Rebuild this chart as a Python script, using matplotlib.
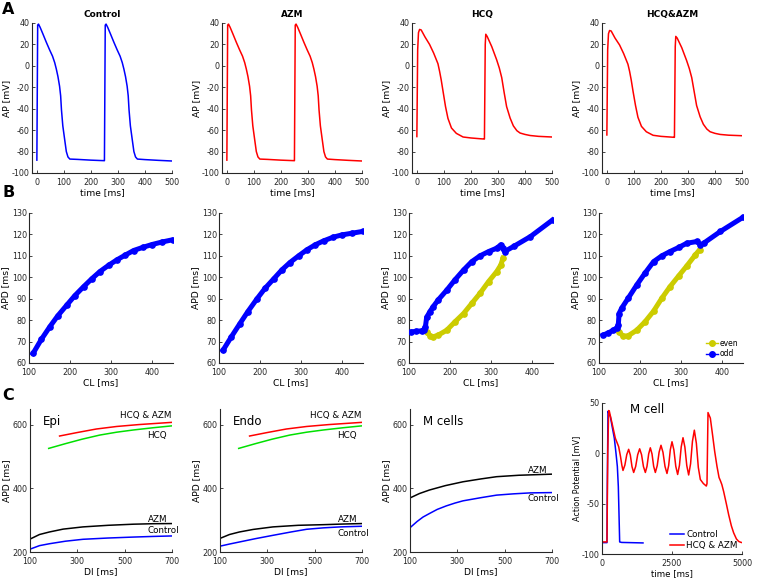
import matplotlib
matplotlib.use("Agg")
import matplotlib.pyplot as plt
from matplotlib.lines import Line2D

plt.rcParams["axes.unicode_minus"] = False  # MATLAB-style hyphen minus

# ---------- A: action potentials (time ms, voltage mV) ----------
ctrl_t = [0, 3, 6, 12, 22, 35, 47, 58, 66, 72, 78, 84, 88, 91, 96, 103, 109, 115, 122, 150, 200, 249.5,
          250, 253, 256, 262, 272, 285, 297, 308, 316, 322, 328, 334, 338, 341, 346, 353, 359, 365, 372, 400, 450, 500]
ctrl_v = [-88, 38, 39, 36, 30, 22, 15, 9, 3, -3, -10, -19, -28, -41, -56, -69, -80, -85, -87, -87.3, -88, -88.5,
          -88.5, 38, 39, 36, 30, 22, 15, 9, 3, -3, -10, -19, -28, -41, -56, -69, -80, -85, -87, -87.5, -88.2, -88.8]
azm_t = ctrl_t
azm_v = [-88, 38, 39, 36, 30, 22, 15, 9, 3, -3, -10, -19, -28, -41, -56, -69, -80, -85, -87, -87.3, -88, -88.5,
         -88.5, 38, 39, 36, 30, 22, 15, 9, 3, -3, -10, -19, -28, -41, -56, -69, -80, -85, -87, -87.5, -88.2, -88.8]
hcq_t = [0, 3, 6, 10, 16, 30, 47, 62, 78, 84, 90, 97, 106, 115, 128, 146, 171, 200, 233, 249.5,
         250, 253, 255, 260, 277, 295, 305, 314, 323, 332, 345, 357, 370, 382, 400, 419, 450, 500]
hcq_v = [-66, 15, 31, 34, 33.5, 27, 20, 12, 2, -5, -13, -24, -38, -49, -58, -63, -66.4, -67.3, -68, -68.3,
         -68.3, 20, 29.5, 27.5, 18, 5.8, -2, -11, -25, -38, -48.7, -56, -60.5, -62.7, -64, -65, -65.8, -66.4]
hqaz_t = hcq_t
hqaz_v = [-64.5, 15, 30, 33, 32.5, 26, 19.5, 11.5, 1.5, -5, -13, -24, -37, -48, -56.5, -61.5, -64.8, -65.8, -66.4, -66.7,
          -66.7, 18, 27.5, 26, 17, 5, -2.5, -11, -24, -37, -47.5, -54.5, -59, -61.5, -63, -64, -64.7, -65.2]

# ---------- B: restitution (CL ms, APD ms) ----------
ctrl_cl = [110, 130, 151, 170, 192, 212, 233, 253, 273, 294, 314, 335, 355, 378, 400, 425, 450]
ctrl_apd = [64.5, 71, 77, 82, 87, 91.5, 95.6, 99.3, 102.7, 105.6, 108.1, 110.4, 112.5, 114, 115.3, 116.5, 117.5]
azm_cl = ctrl_cl
azm_apd = [66, 72.2, 78.4, 83.9, 89.8, 94.8, 99.2, 103.4, 106.9, 110, 112.8, 115.2, 117, 118.7, 119.8, 120.6, 121.4]

hcq_odd_cl = [106, 118, 131, 136, 140, 143, 151, 159, 171, 192, 212, 233, 253, 273, 294, 314, 324, 328, 333,
              355, 396, 451]
hcq_odd_apd = [74.5, 74.8, 75, 75.6, 76.9, 81.3, 84, 86.3, 89.4, 94, 98.8, 103.4, 107.3, 110, 112, 113.6, 115.2,
               113.6, 112, 114.4, 119, 126.9]
hcq_even_cl = [143, 151, 159, 171, 192, 212, 233, 253, 273, 294, 314, 324, 329]
hcq_even_apd = [74.5, 72.8, 72.2, 73, 75.3, 79.2, 83.1, 87.8, 92.5, 98, 102.7, 105.8, 108.9]

hqaz_odd_cl = [110, 122, 135, 143, 147, 149, 155, 171, 192, 212, 233, 253, 273, 294, 314, 339, 347, 355, 396, 451]
hqaz_odd_apd = [73, 74, 75.3, 76.4, 77.7, 83.1, 85.5, 90.2, 96.4, 101.9, 107.3, 110, 112, 113.9, 115.9, 116.7,
                115.2, 115.9, 121.4, 128]
hqaz_even_cl = [149, 159, 171, 192, 212, 233, 253, 273, 294, 314, 335, 345]
hqaz_even_apd = [74.5, 72.5, 72.7, 75.3, 79.2, 84.2, 90.2, 95.6, 100.6, 105.3, 110.5, 112.8]

# ---------- C: APD restitution vs DI ----------
red_di = [225, 300, 380, 466, 560, 640, 700]
red_apd = [565, 576, 587, 595, 601, 605, 608]
green_di = [179, 250, 320, 395, 466, 537, 620, 700]
green_apd = [526, 541, 555, 568, 577, 584, 591, 597]

epi_azm_di = [104, 140, 182, 240, 324, 430, 537, 620, 700]
epi_azm_apd = [242, 255, 263, 272, 279, 284, 287.5, 289, 289.5]
epi_ctrl_di = [104, 140, 182, 250, 324, 430, 537, 620, 700]
epi_ctrl_apd = [210, 220, 226, 234, 240, 244, 247, 249, 250.5]

endo_azm_di = [104, 140, 182, 240, 324, 430, 537, 620, 700]
endo_azm_apd = [244, 255, 263, 271, 279, 284, 286, 288, 289.5]
endo_ctrl_di = [104, 140, 182, 250, 324, 400, 466, 537, 608, 700]
endo_ctrl_apd = [219, 225, 231.5, 242, 252.5, 263, 271.5, 276, 279, 281]

m_azm_di = [104, 140, 182, 250, 324, 400, 466, 560, 700]
m_azm_apd = [371.5, 384, 395, 409, 421, 430, 437, 441.5, 445]
m_ctrl_di = [104, 130, 155, 182, 215, 253, 290, 324, 400, 466, 537, 608, 700]
m_ctrl_apd = [279, 296, 310, 321, 334, 345, 354, 361, 371, 379, 383, 386, 387]

# M cell action potentials (time ms, mV)
mc_ctrl_t = [0, 178, 190, 214, 240, 298, 360, 440, 500, 548, 583, 607, 631, 700, 1464]
mc_ctrl_v = [-88.7, -88.7, -30, 41.7, 40, 36.5, 27, 15, 0, -13, -33, -60, -88, -88.5, -89]
mc_hqaz_t = [0, 178, 205, 238, 260, 300, 357, 476, 595, 660, 710, 750,
             817, 885, 952, 1012, 1071, 1131, 1202, 1274, 1345, 1413, 1480, 1548, 1607, 1667, 1726,
             1786, 1845, 1905, 1972, 2040, 2107, 2178, 2250, 2321, 2381, 2440, 2500, 2567, 2635, 2702,
             2766, 2829, 2893, 2960, 3028, 3095, 3163, 3230, 3298, 3370, 3440, 3512, 3620, 3726, 3750,
             3786, 3869, 3950, 4024, 4107, 4180, 4226, 4280, 4345, 4440, 4524, 4620, 4702, 4800, 4881, 4950, 5000]
mc_hqaz_v = [-88, -88, 0, 42.5, 42, 37, 30, 15, 6.6, -3, -12, -17,
             -11.7, -1.2, 4, -1.8, -13.2, -19, -13.1, -1.4, 4.5, -1.4, -13.1, -19, -12.9, -0.6, 5.5,
             -0.6, -12.9, -19, -12.2, 1.2, 8, 1, -13, -20, -12.1, 3.6, 11.5, 3.4, -12.9, -21,
             -11.9, 6.4, 15.5, 6.2, -12.2, -21.5, -10.4, 11.9, 23, 10, -14, -26, -30, -32.5, -30,
             40.5, 35, 18, 2, -13, -24, -27, -31, -38, -50, -61, -72, -79, -85, -87.5, -88.3, -88.7]

BLUE = "#0000ff"
RED = "#ff0000"
GREEN = "#00e000"
YELLOW = "#cccc00"
W, H = 760, 579
TICK_FS = 5.8
LAB_FS = 6.6


def mkax(l, t, w, h):
    ax = fig.add_axes([l / W, 1 - (t + h) / H, w / W, h / H])
    for s in ("top", "right"):
        ax.spines[s].set_visible(False)
    for s in ("left", "bottom"):
        ax.spines[s].set_color("#262626")
        ax.spines[s].set_linewidth(0.8)
    ax.tick_params(direction="in", length=2.5, width=0.6, labelsize=TICK_FS, colors="#262626", pad=1.5)
    ax.tick_params(axis="x", pad=3.5)
    return ax


fig = plt.figure(figsize=(7.6, 5.79), dpi=100)

# row A
traces = [("Control", ctrl_t, ctrl_v, BLUE), ("AZM", azm_t, azm_v, RED),
          ("HCQ", hcq_t, hcq_v, RED), ("HCQ&AZM", hqaz_t, hqaz_v, RED)]
for i, (name, t, v, c) in enumerate(traces):
    ax = mkax(32 + 190 * i, 23, 140, 150)
    ax.plot(t, v, color=c, lw=1.1)
    ax.set_xlim(-18, 500)
    ax.set_ylim(-100, 40)
    ax.set_xticks(range(0, 501, 100))
    ax.set_yticks(range(-100, 41, 20))
    ax.set_title(name, fontsize=6.5, fontweight="bold", pad=4)
    ax.set_xlabel("time [ms]", fontsize=LAB_FS, labelpad=1)
    ax.set_ylabel("AP [mV]", fontsize=LAB_FS, labelpad=1)

# row B
rest = [(ctrl_cl, ctrl_apd, None, None), (azm_cl, azm_apd, None, None),
        (hcq_odd_cl, hcq_odd_apd, hcq_even_cl, hcq_even_apd),
        (hqaz_odd_cl, hqaz_odd_apd, hqaz_even_cl, hqaz_even_apd)]
for i, (ocl, oapd, ecl, eapd) in enumerate(rest):
    ax = mkax(29 + 190 * i, 213, 144, 150)
    if ecl is not None:
        ax.plot(ecl, eapd, "-o", color=YELLOW, lw=3.6, ms=3.8, zorder=2)
    ax.plot(ocl, oapd, "-o", color=BLUE, lw=3.6, ms=3.8, zorder=3)
    ax.set_xlim(100, 451)
    ax.set_ylim(60, 130)
    ax.set_xticks([100, 200, 300, 400])
    ax.set_yticks(range(60, 131, 10))
    ax.set_xlabel("CL [ms]", fontsize=LAB_FS, labelpad=1)
    ax.set_ylabel("APD [ms]", fontsize=LAB_FS, labelpad=1)
    if i == 3:
        hs = [Line2D([], [], color=YELLOW, marker="o", lw=1, ms=4),
              Line2D([], [], color=BLUE, marker="o", lw=1, ms=4)]
        ax.legend(hs, ["even", "odd"], loc="lower right", fontsize=5.5, frameon=False,
                  handlelength=1.5, handletextpad=0.3, borderaxespad=0.2, labelspacing=0.2)

# row C
cells = [("Epi", epi_azm_di, epi_azm_apd, epi_ctrl_di, epi_ctrl_apd, True, 268),
         ("Endo", endo_azm_di, endo_azm_apd, endo_ctrl_di, endo_ctrl_apd, True, 258),
         ("M cells", m_azm_di, m_azm_apd, m_ctrl_di, m_ctrl_apd, False, 368)]
for i, (name, adi, aapd, cdi, capd, drugs, cy) in enumerate(cells):
    ax = mkax(30 + 190 * i, 409, 142, 143)
    if drugs:
        ax.plot(red_di, red_apd, color=RED, lw=1.1)
        ax.plot(green_di, green_apd, color=GREEN, lw=1.1)
        ax.text(697, 629, "HCQ & AZM", fontsize=6.3, ha="right", va="center")
        ax.text(679, 568, "HCQ", fontsize=6.3, ha="right", va="center")
    ax.plot(adi, aapd, color="black", lw=1.1)
    ax.plot(cdi, capd, color=BLUE, lw=1.1)
    ax.text(680, aapd[-1] + 13, "AZM", fontsize=6.3, ha="right", va="center")
    ax.text(728, cy, "Control", fontsize=6.3, ha="right", va="center", clip_on=False)
    ax.text(154, 600, name, fontsize=8.5, ha="left", va="baseline")
    ax.set_xlim(100, 700)
    ax.set_ylim(200, 650)
    ax.set_xticks([100, 300, 500, 700])
    ax.set_yticks([200, 400, 600])
    ax.set_xlabel("DI [ms]", fontsize=LAB_FS, labelpad=1)
    ax.set_ylabel("APD [ms]", fontsize=LAB_FS, labelpad=1)

ax = mkax(602, 403, 140, 151)
ax.plot(mc_ctrl_t, mc_ctrl_v, color=BLUE, lw=1.1, label="Control")
ax.plot(mc_hqaz_t, mc_hqaz_v, color=RED, lw=1.1, label="HCQ & AZM")
ax.set_xlim(0, 5000)
ax.set_ylim(-100, 50)
ax.set_xticks([0, 2500, 5000])
ax.set_yticks([-100, -50, 0, 50])
ax.text(1000, 40, "M cell", fontsize=8.5, ha="left", va="baseline")
ax.set_xlabel("time [ms]", fontsize=6.2, labelpad=1)
ax.set_ylabel("Action Potential [mV]", fontsize=5.8, labelpad=1)
ax.legend(loc="lower right", fontsize=6.3, frameon=False, handlelength=1.6,
          handletextpad=0.3, borderaxespad=0.1, labelspacing=0.2)

# panel letters
for letter, y in (("A", 10), ("B", 193), ("C", 396)):
    fig.text(2 / W, 1 - y / H, letter, fontsize=11.5, fontweight="bold", va="center", ha="left")

fig.savefig("out.png", dpi=100)
